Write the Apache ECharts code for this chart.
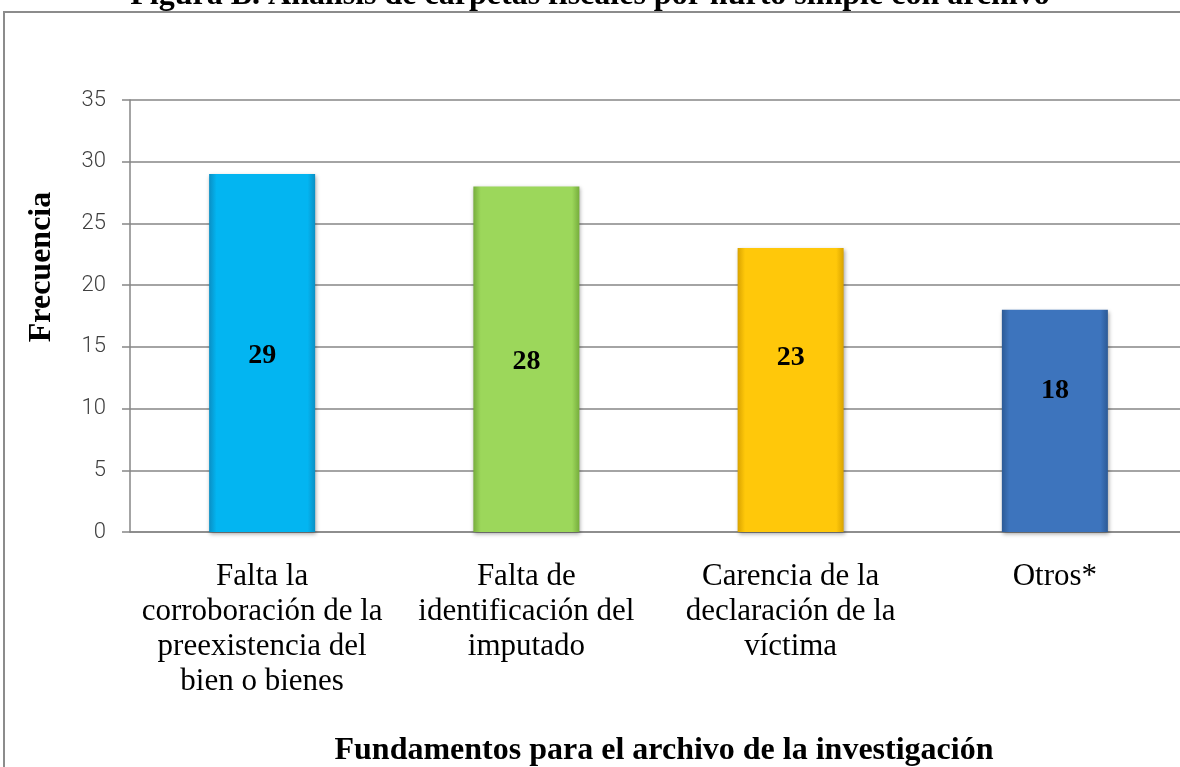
<!DOCTYPE html>
<html>
<head>
<meta charset="utf-8">
<script src="https://cdn.jsdelivr.net/npm/echarts@6/dist/echarts.min.js"></script>
<style>
  html, body { margin: 0; padding: 0; background: #fff; }
  #main { width: 1180px; height: 767px; }
</style>
</head>
<body>
<div id="main"></div>
<script>
// datos del gráfico
const categories = [
  'Falta la\ncorroboración de la\npreexistencia del\nbien o bienes',
  'Falta de\nidentificación del\nimputado',
  'Carencia de la\ndeclaración de la\nvíctima',
  'Otros*'
]
const values = [29, 28, 23, 18]
const yTicks = [0, 5, 10, 15, 20, 25, 30, 35]

// colores de barras (base, borde)
const barColors = [
  ['#03b5f1', '#0a8fc4'],
  ['#9cd75b', '#76ad3c'],
  ['#ffc80a', '#d9a300'],
  ['#3d74bd', '#2c5a96']
]
// desplazamiento de etiquetas (como en el original)
const labelShift = [3, 3, -32, -30]

const serif = '"Liberation Serif", "Times New Roman", serif'

const chart = echarts.init(document.getElementById('main'))

chart.setOption({
  animation: false,
  title: {
    text: 'Figura B. Análisis de carpetas fiscales por hurto simple con archivo',
    left: 'center',
    top: -25,
    textStyle: { fontFamily: serif, fontSize: 32, fontWeight: 'bold', color: '#000' }
  },
  graphic: [
    {
      type: 'rect',
      shape: { x: 4, y: 12, width: 1220, height: 800 },
      style: { fill: 'none', stroke: '#8c8c8c', lineWidth: 2 },
      z: -1
    },
    {
      type: 'text',
      x: 42, y: 267,
      rotation: Math.PI / 2,
      style: {
        text: 'Frecuencia',
        font: 'bold 32px ' + serif,
        fill: '#000',
        align: 'center',
        verticalAlign: 'middle'
      }
    }
  ],
  grid: { left: 130, right: -7, top: 100, bottom: 235, outerBoundsMode: 'none' },
  xAxis: {
    type: 'category',
    data: categories,
    name: 'Fundamentos para el archivo de la investigación',
    nameLocation: 'middle',
    nameGap: 203,
    nameTextStyle: { fontFamily: serif, fontSize: 32, fontWeight: 'bold', color: '#000', padding: [0, 0, 0, 11] },
    axisLine: { lineStyle: { color: '#868686', width: 1.5 } },
    axisTick: { show: false },
    axisLabel: {
      interval: 0,
      margin: 27,
      fontFamily: serif,
      fontSize: 31,
      lineHeight: 35,
      color: '#000',
      align: 'center'
    }
  },
  yAxis: {
    type: 'value',
    min: yTicks[0],
    max: yTicks[yTicks.length - 1],
    interval: 5,
    axisLine: { show: true, lineStyle: { color: '#868686', width: 1.5 } },
    axisTick: { show: true, length: 8, lineStyle: { color: '#868686', width: 1.5 } },
    splitLine: { lineStyle: { color: '#868686', width: 1.5 } },
    axisLabel: {
      margin: 24,
      fontFamily: 'Roboto, "Open Sans", sans-serif',
      fontWeight: 300,
      fontSize: 22,
      color: '#404040'
    }
  },
  series: [{
    type: 'bar',
    barWidth: 106,
    data: values.map((v, i) => ({
      value: v,
      itemStyle: {
        color: {
          type: 'linear', x: 0, y: 0, x2: 1, y2: 0,
          colorStops: [
            { offset: 0, color: barColors[i][1] },
            { offset: 0.07, color: barColors[i][0] },
            { offset: 0.93, color: barColors[i][0] },
            { offset: 1, color: barColors[i][1] }
          ]
        },
        shadowColor: 'rgba(0,0,0,0.35)',
        shadowBlur: 4,
        shadowOffsetX: 1,
        shadowOffsetY: 2
      },
      label: { offset: [0, labelShift[i]] }
    })),
    label: {
      show: true,
      position: 'inside',
      fontFamily: serif,
      fontSize: 28,
      fontWeight: 'bold',
      color: '#000'
    }
  }]
})
</script>
</body>
</html>
